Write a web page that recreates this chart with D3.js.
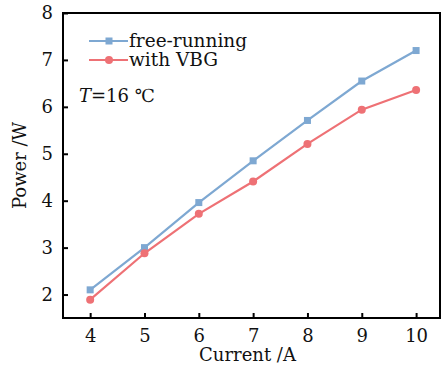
<!DOCTYPE html>
<html>
<head>
<meta charset="utf-8">
<script src="https://cdn.jsdelivr.net/npm/d3@7"></script>
<style>
  body { margin: 0; background: #fff; }
  text { font-family: "DejaVu Serif", serif; fill: #111; }
</style>
</head>
<body>
<script>
// data
var current = [4, 5, 6, 7, 8, 9, 10];
var freeRunning = [2.1, 3.0, 3.96, 4.85, 5.71, 6.55, 7.2];
var withVBG = [1.89, 2.88, 3.72, 4.41, 5.21, 5.94, 6.36];
var xTicks = [4, 5, 6, 7, 8, 9, 10];
var yTicks = [2, 3, 4, 5, 6, 7, 8];

var W = 442, H = 367;
var margin = {top: 13, right: 2, bottom: 49, left: 63};
var width = W - margin.left - margin.right,
    height = H - margin.top - margin.bottom;

var x = d3.scaleLinear().domain([3.5, 10.44]).range([0, width]);
var y = d3.scaleLinear().domain([1.5, 8]).range([height, 0]);

var svg = d3.select("body").append("svg")
    .attr("width", W)
    .attr("height", H)
  .append("g")
    .attr("transform", "translate(" + margin.left + "," + margin.top + ")");

// frame
svg.append("rect")
    .attr("width", width).attr("height", height)
    .attr("fill", "none").attr("stroke", "#000").attr("stroke-width", 2);

// axes, ticks pointing inward
var gx = svg.append("g")
    .attr("transform", "translate(0," + height + ")")
    .call(d3.axisBottom(x).tickValues(xTicks).tickFormat(d3.format("d"))
      .tickSizeInner(-5).tickSizeOuter(0).tickPadding(11));
var gy = svg.append("g")
    .call(d3.axisLeft(y).tickValues(yTicks).tickFormat(d3.format("d"))
      .tickSizeInner(-5).tickSizeOuter(0).tickPadding(10));
[gx, gy].forEach(function(g) {
  g.select(".domain").remove();
  g.selectAll(".tick line").attr("stroke", "#000").attr("stroke-width", 2);
  g.selectAll(".tick text").style("font-size", "18px").style("font-family", "DejaVu Serif");
});

var series = [
  {name: "free-running", values: freeRunning, color: "#7ea8d2", shape: "square"},
  {name: "with VBG", values: withVBG, color: "#ee7175", shape: "circle"}
];

var line = d3.line()
    .x(function(d) { return x(d[0]); })
    .y(function(d) { return y(d[1]); });

function marker(g, shape, color) {
  if (shape === "square") {
    g.append("rect").attr("x", -3.5).attr("y", -3.5).attr("width", 7).attr("height", 7).attr("fill", color);
  } else {
    g.append("circle").attr("r", 4).attr("fill", color);
  }
}

series.forEach(function(s) {
  var pts = current.map(function(c, i) { return [c, s.values[i]]; });
  svg.append("path")
      .datum(pts)
      .attr("d", line)
      .attr("fill", "none")
      .attr("stroke", s.color)
      .attr("stroke-width", 2.2);
  pts.forEach(function(p) {
    var g = svg.append("g").attr("transform", "translate(" + x(p[0]) + "," + y(p[1]) + ")");
    marker(g, s.shape, s.color);
  });
});

// legend
var legend = svg.append("g").attr("transform", "translate(26,28)");
series.forEach(function(s, i) {
  var row = legend.append("g").attr("transform", "translate(0," + (i * 19) + ")");
  row.append("line").attr("x1", 0).attr("x2", 39).attr("stroke", s.color).attr("stroke-width", 2.2);
  var m = row.append("g").attr("transform", "translate(20,0)");
  marker(m, s.shape, s.color);
  row.append("text").attr("x", 40).attr("y", 6).style("font-size", "18.5px").text(s.name);
});

svg.append("text")
    .attr("x", 16).attr("y", 89)
    .style("font-size", "18px")
    .html('<tspan font-style="italic">T</tspan>=16 ℃');

// axis titles
svg.append("text")
    .attr("x", width / 2 - 4).attr("y", height + 43)
    .attr("text-anchor", "middle")
    .style("font-size", "18px")
    .text("Current /A");
svg.append("text")
    .attr("transform", "translate(-37," + (height / 2) + ") rotate(-90)")
    .attr("text-anchor", "middle")
    .style("font-size", "18px")
    .text("Power /W");
</script>
</body>
</html>
